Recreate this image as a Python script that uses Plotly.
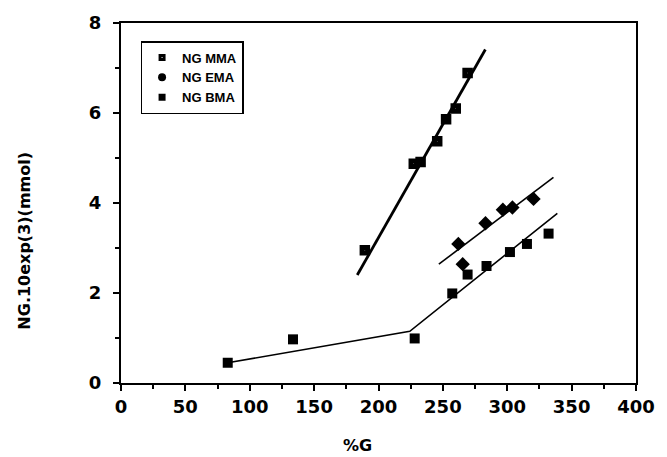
import plotly.graph_objects as go

# --- data ---
mma_x = [189.4, 227.4, 232.7, 245.6, 252.5, 260.0, 269.2]
mma_y = [2.95, 4.87, 4.91, 5.37, 5.86, 6.10, 6.89]
mma_fit_x = [183.5, 283.0]
mma_fit_y = [2.40, 7.41]

ema_x = [262.0, 265.4, 283.1, 296.6, 304.0, 320.4]
ema_y = [3.09, 2.64, 3.55, 3.85, 3.90, 4.09]
ema_fit_x = [246.9, 335.9]
ema_fit_y = [2.64, 4.57]

bma_x = [82.9, 133.6, 228.1, 257.3, 269.2, 283.9, 302.1, 315.3, 332.1]
bma_y = [0.45, 0.97, 0.99, 1.99, 2.41, 2.60, 2.91, 3.09, 3.32]
bma_fit_x = [82.9, 224.3, 338.9]
bma_fit_y = [0.45, 1.15, 3.77]

series_names = ["NG MMA", "NG EMA", "NG BMA"]
x_ticks = [0, 50, 100, 150, 200, 250, 300, 350, 400]
y_ticks = [0, 2, 4, 6, 8]

FONT = "DejaVu Sans"

fig = go.Figure()

# fit lines
fig.add_trace(go.Scatter(x=mma_fit_x, y=mma_fit_y, mode="lines",
                         line=dict(color="black", width=2.8), showlegend=False, hoverinfo="skip"))
fig.add_trace(go.Scatter(x=ema_fit_x, y=ema_fit_y, mode="lines",
                         line=dict(color="black", width=1.6), showlegend=False, hoverinfo="skip"))
fig.add_trace(go.Scatter(x=bma_fit_x, y=bma_fit_y, mode="lines",
                         line=dict(color="black", width=1.6), showlegend=False, hoverinfo="skip"))

# data points
fig.add_trace(go.Scatter(x=mma_x, y=mma_y, mode="markers", name=series_names[0], showlegend=False,
                         marker=dict(symbol="square-open", size=5.5, color="black",
                                     line=dict(color="black", width=5))))
fig.add_trace(go.Scatter(x=ema_x, y=ema_y, mode="markers", name=series_names[1], showlegend=False,
                         marker=dict(symbol="diamond", size=11, color="black")))
fig.add_trace(go.Scatter(x=bma_x, y=bma_y, mode="markers", name=series_names[2], showlegend=False,
                         marker=dict(symbol="square", size=10, color="black")))

# legend entries (smaller markers, as in the reference legend)
fig.add_trace(go.Scatter(x=[None], y=[None], mode="markers", name=series_names[0],
                         marker=dict(symbol="square-open", size=4, color="black",
                                     line=dict(color="black", width=3))))
fig.add_trace(go.Scatter(x=[None], y=[None], mode="markers", name=series_names[1],
                         marker=dict(symbol="circle", size=8, color="black")))
fig.add_trace(go.Scatter(x=[None], y=[None], mode="markers", name=series_names[2],
                         marker=dict(symbol="square", size=7, color="black")))

axis_common = dict(
    showgrid=False, zeroline=False, showline=True, linecolor="black", linewidth=2,
    mirror=True, ticks="outside", ticklen=6, tickwidth=1.5, tickcolor="black",
    tickfont=dict(family=FONT, size=18, color="black", weight=700),
)

fig.update_layout(
    width=667, height=457,
    margin=dict(l=121, r=20, t=19, b=74),
    paper_bgcolor="white", plot_bgcolor="white",
    xaxis=dict(range=[0, 400], tickvals=x_ticks,
               ticktext=["<b>%d</b>" % v for v in x_ticks],
               minor=dict(dtick=25, ticks="outside", ticklen=4, tickcolor="black", tickwidth=1.5),
               **axis_common),
    yaxis=dict(range=[0, 8], tickvals=y_ticks, ticklabelstandoff=8,
               ticktext=["<b>%d</b>" % v for v in y_ticks],
               minor=dict(dtick=1, ticks="outside", ticklen=4, tickcolor="black", tickwidth=1.5),
               **axis_common),
    legend=dict(x=0.038, y=0.95, xanchor="left", yanchor="top",
                bgcolor="white", bordercolor="black", borderwidth=1.5,
                font=dict(family="Liberation Sans", size=13, color="black", weight=700),
                tracegroupgap=0, itemwidth=30),
    showlegend=True,
    annotations=[
        dict(text="<b>%G</b>", xref="paper", yref="paper", x=(363 - 121) / 526, y=(383 - 446) / 364,
             showarrow=False, xanchor="center", yanchor="middle",
             font=dict(family=FONT, size=16, color="black", weight=700)),
        dict(text="<b>NG.10exp(3)(mmol)</b>", xref="paper", yref="paper",
             x=(23 - 121) / 526, y=(383 - 239) / 364, textangle=-90,
             showarrow=False, xanchor="center", yanchor="middle",
             font=dict(family=FONT, size=16, color="black", weight=700)),
    ],
)

fig.write_html("out.html")
